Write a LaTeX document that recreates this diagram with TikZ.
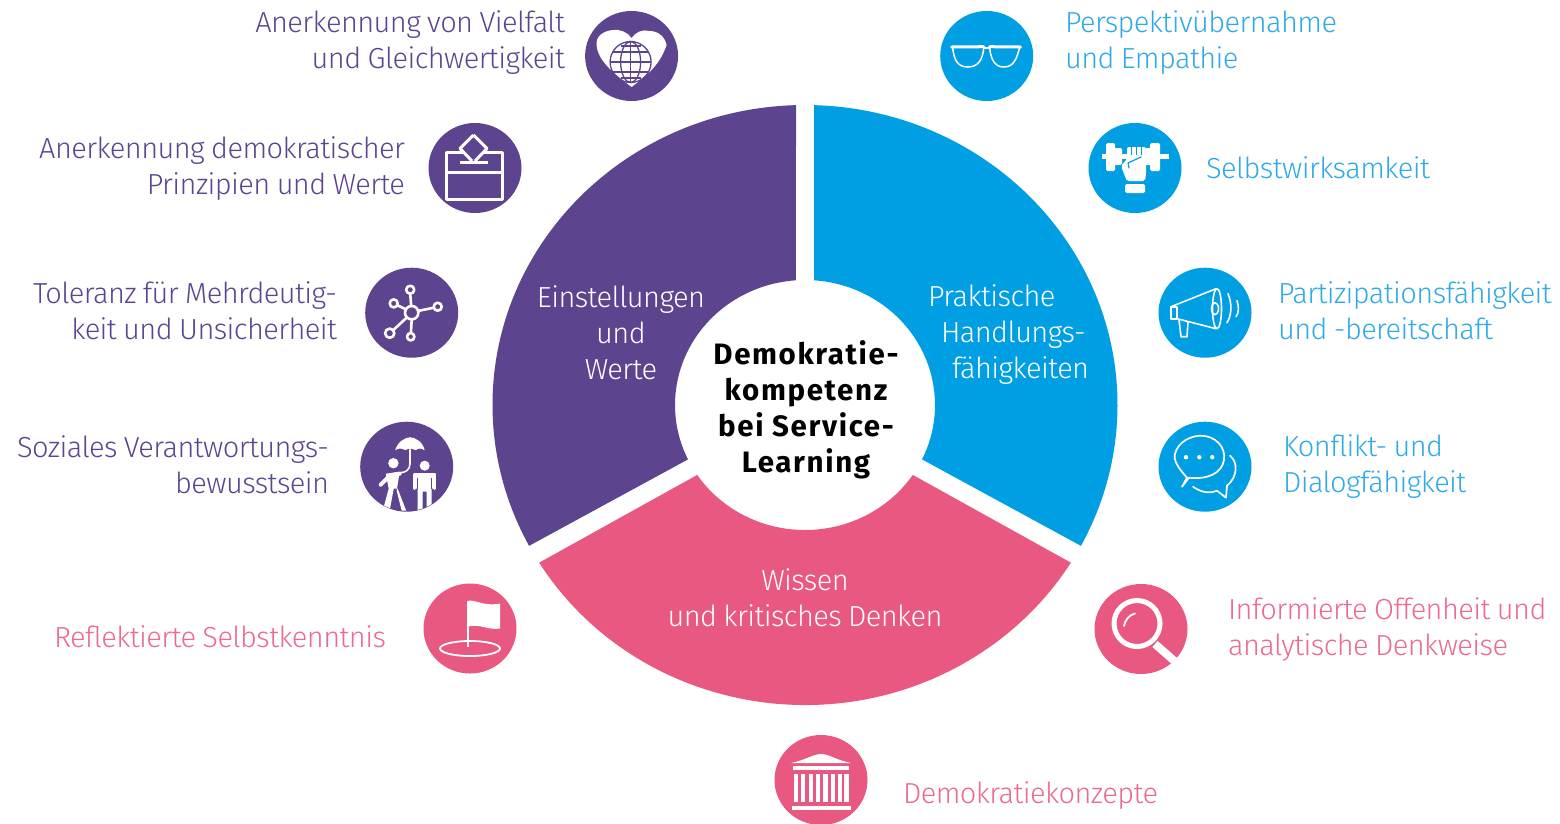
\documentclass[tikz,border=0pt]{standalone}
\usepackage{fontspec}
\usetikzlibrary{shapes.geometric,calc}
\setmainfont{Fira Sans Light}[LetterSpace=-2.0,WordSpace=0.85]
\newfontfamily\ctrfont{Fira Sans Bold}[LetterSpace=5.5]
\newcommand\st{\rule[-4pt]{0pt}{28pt}}
\definecolor{vio}{HTML}{5C448F}
\definecolor{blu}{HTML}{009FE3}
\definecolor{pnk}{HTML}{E85880}
\definecolor{blutxt}{HTML}{2FAAE6}
\definecolor{pnktxt}{HTML}{EC6A8E}
\tikzset{
  iconc/.style={ellipse,minimum width=93,minimum height=90,inner sep=0,draw=none},
  lab/.style={inner sep=0,outer sep=0,font=\fontsize{29}{35.2}\selectfont},
  labl/.style={lab,anchor=west,align=left},
  labr/.style={lab,anchor=east,align=right},
  secl/.style={lab,font=\fontsize{29}{36}\selectfont,text=white,align=center},
  ws/.style={draw=white,line width=2.2,line cap=round,line join=round},
}
\begin{document}
\begin{tikzpicture}[x=1pt,y=1pt]
\useasboundingbox (0,-823) rectangle (1560,0);
\coordinate (c) at (805,-405);
% sectors
\fill[vio] ($(c)+(91.65:312.5 and 300)$) arc[start angle=91.65,end angle=208,x radius=312.5,y radius=300]
  -- ($(c)+(205.8:130 and 125)$) arc[start angle=205.8,end angle=94,x radius=130,y radius=125] -- cycle;
\fill[blu] ($(c)+(88.35:312.5 and 300)$) arc[start angle=88.35,end angle=-28,x radius=312.5,y radius=300]
  -- ($(c)+(-25.8:130 and 125)$) arc[start angle=-25.8,end angle=86,x radius=130,y radius=125] -- cycle;
\fill[pnk] ($(c)+(211.7:312.5 and 300)$) arc[start angle=211.7,end angle=328.3,x radius=312.5,y radius=300]
  -- ($(c)+(326:130 and 125)$) arc[start angle=326,end angle=214,x radius=130,y radius=125] -- cycle;
% sector labels
\node[secl] (s1) at (621,-333.5) {\st Einstellungen\\\st und\\\st Werte};
\node[secl,anchor=west,align=left] (s2) at (928,-333.5) {\st Praktische\\\st\hspace*{13pt}Handlungs-\\\st\hspace*{24pt}fähigkeiten};
\node[secl] (s3) at (805,-598) {\st Wissen\\\st und kritisches Denken};
\node[lab,align=center,font=\fontsize{29.5}{36}\ctrfont,text=black] (ctr) at (806,-410) {\st Demokratie-\\\st kompetenz\\\st bei Service-\\\st Learning};
% labels
\node[labr,text=vio] (l1) at (565,-41.5) {\st Anerkennung von Vielfalt\\\st und Gleichwertigkeit};
\node[labr,text=vio] (l2) at (405,-167.5) {\st Anerkennung demokratischer\\\st Prinzipien und Werte};
\node[labr,text=vio] (l3) at (337,-311.5) {\st Toleranz für Mehrdeutig-\\\st keit und Unsicherheit};
\node[labr,text=vio] (l4) at (329,-465.5) {\st Soziales Verantwortungs-\\\st bewusstsein};
\node[labr,text=pnktxt] (l5) at (386,-637) {\st Reflektierte Selbstkenntnis};
\node[labl,text=blutxt] (r1) at (1065,-41.5) {\st Perspektivübernahme\\\st und Empathie};
\node[labl,text=blutxt] (r2) at (1206,-168) {\st Selbstwirksamkeit};
\node[labl,text=blutxt] (r3) at (1278,-311.5) {\st Partizipationsfähigkeit\\\st und -bereitschaft};
\node[labl,text=blutxt] (r4) at (1283,-465.5) {\st Konflikt- und\\\st Dialogfähigkeit};
\node[labl,text=pnktxt] (r5) at (1228,-628.5) {\st Informierte Offenheit und\\\st analytische Denkweise};
\node[labl,text=pnktxt] (b1) at (903,-794) {\st Demokratiekonzepte};
% icon discs
\node[iconc,fill=vio] (ia) at (631.6,-56) {};
\node[iconc,fill=vio] (ib) at (475,-168) {};
\node[iconc,fill=vio] (ic) at (411.7,-312.7) {};
\node[iconc,fill=vio] (id) at (406.7,-466.7) {};
\node[iconc,fill=pnk] (ie) at (470,-628.5) {};
\node[iconc,fill=blu] (if) at (986.7,-56) {};
\node[iconc,fill=blu] (ig) at (1135,-168) {};
\node[iconc,fill=blu] (ih) at (1205,-312.7) {};
\node[iconc,fill=blu] (ii) at (1205,-466.7) {};
\node[iconc,fill=pnk] (ij) at (1141,-629) {};
\node[iconc,fill=pnk] (ik) at (821,-780) {};
% heart + globe
\begin{scope}[shift={(ia.center)}]
  \fill[white] (0,18) .. controls (-4,24) and (-12,27) .. (-19,26) .. controls (-28,25) and (-36,20) .. (-35,11)
    .. controls (-34,-6) and (-14,-20) .. (0,-31) .. controls (14,-20) and (28,-10) .. (35,11)
    .. controls (33,20) and (26,25) .. (18,25) .. controls (11,27) and (4,24) .. (0,18) -- cycle;
  \begin{scope}[shift={(-1,-6)},draw=vio,line width=1.3]
    \draw (0,0) circle (20.5);
    \draw (0,0) ellipse (10 and 20.5);
    \draw (0,-20.5) -- (0,20.5);
    \draw (-20.5,0) -- (20.5,0);
    \draw (-17.5,10) -- (17.5,10);
    \draw (-17.5,-10) -- (17.5,-10);
    \draw (-10,16) -- (10,16);
    \draw (-10,-16) -- (10,-16);
  \end{scope}
\end{scope}
% ballot box
\begin{scope}[shift={(ib.center)},ws,line width=3,line cap=butt]
  \draw (-10,15.7) -- (-29,15.7) -- (-29,-31.6) -- (27,-31.6) -- (27,15.7) -- (9,15.7);
  \draw (-29,-4.3) -- (27,-4.3);
  \draw (-15,6) -- (13,6);
  \draw (-1.5,33) -- (-15,19.5) -- (-3,7) (0,7) -- (12,19.5) -- (-1.5,33);
\end{scope}
% network
\begin{scope}[shift={(ic.center)},ws,line width=2.6]
  \draw (0,0) circle (6.7);
  \draw (-1.5,23) circle (4); \draw (26,6) circle (4); \draw (-1,-24) circle (3.7);
  \draw (-22,-20.5) circle (4.6); \draw (-18,9.3) circle (4);
  \draw (-0.5,6.7) -- (-1.5,19); \draw (6.5,1.8) -- (22,5); \draw (0,-6.7) -- (-0.8,-20.3);
  \draw (-4.8,-4.7) -- (-18.5,-17.5); \draw (-5.8,3.4) -- (-14.5,7.5);
\end{scope}
% umbrella + people
\begin{scope}[shift={(id.center)}]
  \clip (0,0) ellipse (46 and 44.5);
  \fill[white] (-11.5,16.5) .. controls (-9,25) and (-2,29) .. (3.3,29.5) .. controls (9,29) and (16,25) .. (18,16.5)
    .. controls (14,19) and (11,18.5) .. (8.5,16.5) .. controls (6,18.5) and (1,18.5) .. (-1.5,16.5) .. controls (-4,18.5) and (-8,19) .. (-11.5,16.5) -- cycle;
  \draw[white,line width=1.6,line cap=round] (3.3,17) -- (3.3,3) .. controls (3.3,-3) and (-1,-6) .. (-7,-6);
  \fill[white] (-13.3,3.5) ellipse (5.2 and 5.2);
  \draw[white,line width=4,line cap=round,line join=round] (-7,-7) -- (-17,-9) -- (-26,-18);
  \fill[white] (-21,-7) -- (-7,-5) -- (-10,-24) -- (-5,-44) -- (-0.5,-44) -- (-9,-22) -- (-13,-22) -- (-17,-44) -- (-24,-44) -- (-18,-22) -- cycle;
  \fill[white] (18,1) circle (5);
  \fill[white] (7,-6.5) -- (29,-6.5) -- (29,-22) -- (25,-22) -- (25,-44) -- (20,-44) -- (20,-25) -- (16,-25) -- (16,-44) -- (11,-44) -- (11,-22) -- (7,-22) -- cycle;
  \draw[vio,line width=1] (11,-11) -- (11,-22) (25,-11) -- (25,-22);
  \draw[white,line width=2.8,line cap=round] (8,-8) -- (8,-22) (28,-8) -- (28,-22);
\end{scope}
% flag
\begin{scope}[shift={(ie.center)}]
  \draw[white,line width=2.2] (-1.7,-18) -- (-1.7,28);
  \fill[white] (-1.7,28) .. controls (8,28) and (15,22) .. (30,25) -- (30,0) .. controls (18,-2) and (10,5) .. (-1.7,2) -- cycle;
  \draw[white,line width=1.8] (0,-20) ellipse (30 and 7.5);
\end{scope}
% glasses
\begin{scope}[shift={(if.center)},ws,line width=1.5]
  \draw[line width=3] (-35,9) -- (-3,9.3) (3,9.3) -- (34,9);
  \draw (-34,9) .. controls (-33,-4) and (-29,-11) .. (-19,-11) .. controls (-8,-11) and (-4,-3) .. (-3,8);
  \draw (3,8) .. controls (4,-3) and (8,-11) .. (17,-11) .. controls (27,-11) and (30,-3) .. (33,9);
  \draw (-3,8) -- (3,8);
\end{scope}
% fist + dumbbell
\begin{scope}[shift={(ig.center)}]
  \fill[white,rounded corners=1.5] (-29,-3) rectangle (-20,25);
  \fill[white,rounded corners=1.5] (-21,3) rectangle (-13,20);
  \fill[white] (-33,9) rectangle (-7,14);
  \fill[white,rounded corners=1.5] (15,-3) rectangle (25,25);
  \fill[white,rounded corners=1.5] (9,3) rectangle (16,20);
  \fill[white] (3,9) rectangle (34,14);
  \fill[white,rounded corners=2] (-8,21) -- (-8,9) -- (-14,2) -- (-9,-11) -- (-8,-13) -- (10,-13) -- (11,-6) -- (11,21) -- cycle;
  \draw[blu,line width=1] (-4,21) -- (-4,13) (1,21) -- (1,13) (6,21) -- (6,13);
  \draw[blu,line width=1.2,line cap=round] (-7,5) -- (6,11) (-7,5) -- (-6,0);
  \fill[white,rounded corners=1.5] (-10,-16) rectangle (10,-25);
\end{scope}
% megaphone
\begin{scope}[shift={(ih.center)},ws,line width=1.6]
  \draw (-34,6) -- (11,24) (-28,-6) -- (11,-16);
  \draw (12,4) ellipse (4.5 and 20);
  \draw (10,4) ellipse (3.5 and 6);
  \draw (-34,6) -- (-28,6) -- (-28,-6) -- (-34,-6) -- cycle;
  \draw (-26,-7) -- (-24,-24) -- (-18,-24) -- (-17,-9);
  \draw (23,19) .. controls (27,10) and (27,-2) .. (22,-10);
  \draw (32,12) .. controls (34,6) and (34,0) .. (31,-4);
\end{scope}
% chat bubbles
\begin{scope}[shift={(ii.center)},ws,line width=1.7]
  \draw (-18,-11) .. controls (-26,-2) and (-32,6) .. (-30,13) .. controls (-27,25) and (-14,31) .. (-4,31)
    .. controls (10,31) and (21,20) .. (19,7) .. controls (17,-7) and (2,-13) .. (-16,-11)
    -- (-23,-20) -- cycle;
  \draw (25,11) .. controls (33,5) and (33,-10) .. (22,-19) -- (21,-31) -- (12,-24) .. controls (2,-28) and (-6,-24) .. (-12,-20);
  \fill[white] (-19,9.5) circle (2.2) (-5.7,9.5) circle (2.2) (7.3,9.5) circle (2.2);
\end{scope}
% magnifier
\begin{scope}[shift={(ij.center)}]
  \begin{scope}
    \clip (0,0) ellipse (46.5 and 45);
    \draw[white,line width=8] (14,-15) -- (38,-36);
  \end{scope}
  \draw[white,line width=5] (-4,5.5) circle (23);
  \draw[white,line width=1.8,line cap=round] (-17,3) .. controls (-16,9) and (-12,14) .. (-6,15.5);
\end{scope}
% temple
\begin{scope}[shift={(ik.center)}]
  \fill[white] (-30,17) .. controls (-15,20) and (-8,26) .. (0,26) .. controls (8,26) and (15,20) .. (30,17) -- cycle;
  \fill[white] (-28,10.5) rectangle (28,14.5);
  \fill[white] (-29.5,-26) rectangle (29.5,-30);
  \foreach \cx in {-25,-18,-10.3,-3,4.3,11.7,19,25.5}{
    \fill[white] (\cx-2.2,6.5) rectangle (\cx+2.2,-22);
  }
\end{scope}
\end{tikzpicture}
\end{document}
